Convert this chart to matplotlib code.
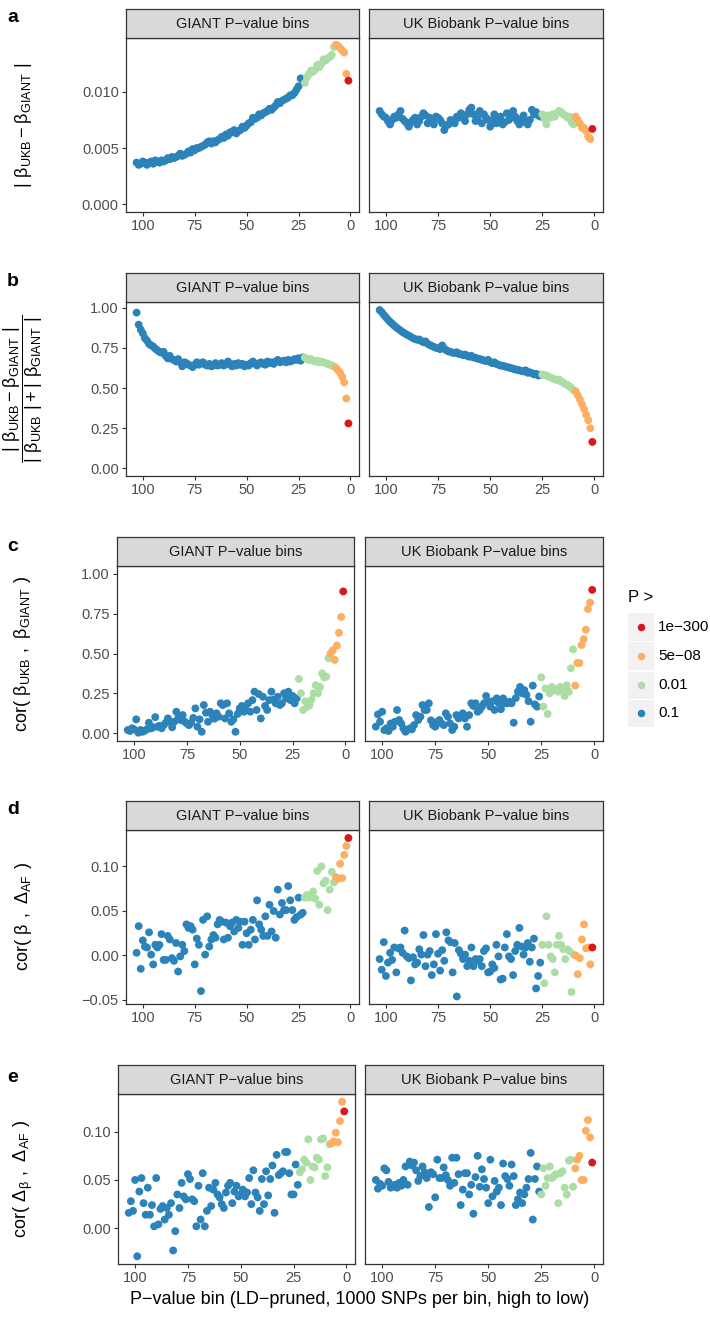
import matplotlib
matplotlib.use('Agg')
import matplotlib.pyplot as plt
from matplotlib.patches import Rectangle
from matplotlib.lines import Line2D

plt.rcParams['font.family'] = ['Liberation Sans', 'DejaVu Sans']
plt.rcParams['mathtext.default'] = 'regular'

# ---------------- data ----------------
# bins ordered as drawn left to right (high bin number -> low)
bins = list(range(103, 0, -1))

# P-value class of each bin, same order as bins
giant_cat = ['0.1'] * 81 + ['0.01'] * 15 + ['5e-08'] * 6 + ['1e-300']
ukb_cat = ['0.1'] * 78 + ['0.01'] * 16 + ['5e-08'] * 8 + ['1e-300']

legend_levels = ['1e-300', '5e-08', '0.01', '0.1']
legend_labels = ['1e\u2212300', '5e\u221208', '0.01', '0.1']
level_colors = ['#D7191C', '#FDAE61', '#ABDDA4', '#2B83BA']

# a: |beta_UKB - beta_GIANT|
a_giant = [
    0.0037, 0.0035, 0.0036, 0.0038, 0.0037, 0.0035, 0.0037, 0.0038, 0.0036, 0.0039,
    0.0038, 0.0037, 0.0039, 0.0038, 0.0039, 0.0041, 0.0040, 0.0042, 0.0041, 0.0042,
    0.0043, 0.0045, 0.0043, 0.0044, 0.0045, 0.0047, 0.0046, 0.0049, 0.0048, 0.0050,
    0.0050, 0.0051, 0.0052, 0.0053, 0.0055, 0.0056, 0.0054, 0.0056, 0.0055, 0.0057,
    0.0058, 0.0060, 0.0059, 0.0062, 0.0061, 0.0064, 0.0064, 0.0066, 0.0063, 0.0065,
    0.0066, 0.0069, 0.0068, 0.0070, 0.0072, 0.0073, 0.0077, 0.0076, 0.0077, 0.0080,
    0.0079, 0.0081, 0.0082, 0.0083, 0.0085, 0.0084, 0.0086, 0.0088, 0.0091, 0.0090,
    0.0092, 0.0093, 0.0094, 0.0095, 0.0097, 0.0097, 0.0099, 0.0102, 0.0105, 0.0112,
    0.0111,
    0.0108, 0.0113, 0.0116, 0.0119, 0.0118, 0.0120, 0.0124, 0.0122, 0.0125, 0.0129,
    0.0128, 0.0130, 0.0131, 0.0133, 0.0140,
    0.0142, 0.0141, 0.0139, 0.0137, 0.0135, 0.0116,
    0.0110]
a_ukb = [
    0.0083, 0.0080, 0.0078, 0.0077, 0.0074, 0.0071, 0.0075, 0.0078, 0.0077, 0.0080,
    0.0083, 0.0076, 0.0074, 0.0072, 0.0069, 0.0073, 0.0075, 0.0077, 0.0071, 0.0074,
    0.0078, 0.0081, 0.0079, 0.0072, 0.0077, 0.0074, 0.0071, 0.0078, 0.0077, 0.0075,
    0.0072, 0.0066, 0.0070, 0.0071, 0.0075, 0.0073, 0.0072, 0.0078, 0.0077, 0.0081,
    0.0077, 0.0074, 0.0080, 0.0084, 0.0086, 0.0080, 0.0074, 0.0077, 0.0083, 0.0072,
    0.0080, 0.0077, 0.0075, 0.0069, 0.0075, 0.0080, 0.0072, 0.0075, 0.0078, 0.0071,
    0.0073, 0.0081, 0.0075, 0.0077, 0.0083, 0.0078, 0.0074, 0.0071, 0.0076, 0.0079,
    0.0073, 0.0071, 0.0075, 0.0084, 0.0080, 0.0082, 0.0079, 0.0078,
    0.0080, 0.0076, 0.0071, 0.0079, 0.0077, 0.0080, 0.0078, 0.0081, 0.0083, 0.0082,
    0.0080, 0.0079, 0.0077, 0.0078, 0.0073, 0.0071,
    0.0078, 0.0075, 0.0072, 0.0068, 0.0068, 0.0065, 0.0060, 0.0058,
    0.0067]

# b: |beta_UKB - beta_GIANT| / (|beta_UKB| + |beta_GIANT|)
b_giant = [
    0.969, 0.894, 0.863, 0.840, 0.810, 0.795, 0.775, 0.765, 0.758, 0.745,
    0.735, 0.725, 0.720, 0.725, 0.700, 0.685, 0.700, 0.680, 0.675, 0.665,
    0.680, 0.660, 0.635, 0.660, 0.655, 0.645, 0.640, 0.630, 0.645, 0.660,
    0.645, 0.655, 0.660, 0.645, 0.640, 0.650, 0.635, 0.640, 0.655, 0.640,
    0.645, 0.655, 0.640, 0.650, 0.665, 0.645, 0.635, 0.650, 0.640, 0.655,
    0.645, 0.650, 0.635, 0.645, 0.640, 0.655, 0.665, 0.650, 0.640, 0.655,
    0.660, 0.650, 0.645, 0.665, 0.655, 0.660, 0.650, 0.665, 0.675, 0.660,
    0.665, 0.670, 0.660, 0.675, 0.665, 0.670, 0.680, 0.675, 0.685, 0.670,
    0.690,
    0.690, 0.680, 0.675, 0.680, 0.670, 0.665, 0.670, 0.660, 0.665, 0.660,
    0.655, 0.650, 0.645, 0.640, 0.635,
    0.625, 0.610, 0.595, 0.570, 0.535, 0.435,
    0.280]
b_ukb = [
    0.985, 0.972, 0.955, 0.940, 0.925, 0.912, 0.900, 0.888, 0.877, 0.867,
    0.858, 0.848, 0.840, 0.832, 0.826, 0.818, 0.810, 0.805, 0.800, 0.802,
    0.792, 0.785, 0.790, 0.775, 0.768, 0.762, 0.756, 0.750, 0.748, 0.742,
    0.765, 0.745, 0.735, 0.728, 0.725, 0.720, 0.718, 0.722, 0.712, 0.710,
    0.705, 0.708, 0.700, 0.695, 0.700, 0.690, 0.688, 0.683, 0.680, 0.676,
    0.672, 0.668, 0.675, 0.662, 0.655, 0.660, 0.650, 0.645, 0.640, 0.638,
    0.635, 0.630, 0.628, 0.624, 0.620, 0.616, 0.613, 0.610, 0.607, 0.603,
    0.610, 0.595, 0.598, 0.592, 0.585, 0.588, 0.578, 0.582,
    0.584, 0.580, 0.578, 0.570, 0.566, 0.560, 0.555, 0.550, 0.553, 0.540,
    0.535, 0.525, 0.520, 0.510, 0.500, 0.485,
    0.480, 0.455, 0.430, 0.400, 0.370, 0.335, 0.300, 0.250,
    0.165]

# c: cor(beta_UKB, beta_GIANT)
c_giant = [
    0.019, 0.013, 0.030, 0.023, 0.086, 0.002, 0.019, 0.008, 0.015, 0.023,
    0.065, 0.029, 0.036, 0.100, 0.040, 0.045, 0.030, 0.050, 0.065, 0.092,
    0.071, 0.036, 0.071, 0.134, 0.100, 0.082, 0.113, 0.071, 0.060, 0.050,
    0.065, 0.095, 0.155, 0.040, 0.086, 0.008, 0.176, 0.128, 0.071, 0.134,
    0.113, 0.090, 0.124, 0.103, 0.187, 0.176, 0.092, 0.187, 0.124, 0.071,
    0.086, 0.008, 0.120, 0.155, 0.170, 0.134, 0.145, 0.187, 0.134, 0.207,
    0.260, 0.145, 0.245, 0.092, 0.228, 0.170, 0.145, 0.207, 0.260, 0.210,
    0.187, 0.228, 0.176, 0.187, 0.250, 0.218, 0.260, 0.207, 0.233, 0.187,
    0.218,
    0.340, 0.250, 0.145, 0.200, 0.165, 0.175, 0.210, 0.250, 0.300, 0.250,
    0.290, 0.375, 0.350, 0.355, 0.470,
    0.500, 0.520, 0.460, 0.550, 0.630, 0.730,
    0.890]
c_ukb = [
    0.040, 0.117, 0.071, 0.134, 0.019, 0.030, 0.013, 0.060, 0.040, 0.071,
    0.145, 0.082, 0.060, 0.029, 0.008, 0.020, 0.029, 0.023, 0.050, 0.113,
    0.082, 0.103, 0.176, 0.145, 0.145, 0.187, 0.080, 0.050, 0.040, 0.071,
    0.082, 0.060, 0.050, 0.124, 0.103, 0.060, 0.019, 0.040, 0.113, 0.092,
    0.103, 0.124, 0.092, 0.040, 0.113, 0.187, 0.170, 0.187, 0.134, 0.145,
    0.166, 0.187, 0.233, 0.197, 0.166, 0.200, 0.145, 0.218, 0.187, 0.150,
    0.218, 0.187, 0.187, 0.197, 0.187, 0.065, 0.220, 0.260, 0.290, 0.250,
    0.270, 0.240, 0.200, 0.071, 0.298, 0.180, 0.166, 0.230,
    0.350, 0.166, 0.280, 0.120, 0.250, 0.290, 0.270, 0.275, 0.260, 0.290,
    0.270, 0.233, 0.300, 0.260, 0.407, 0.526,
    0.298, 0.440, 0.440, 0.553, 0.590, 0.650, 0.780, 0.820,
    0.900]

# d: cor(beta, Delta_AF)
d_giant = [
    0.003, 0.033, -0.015, 0.017, 0.010, 0.009, 0.026, 0.001, -0.010, 0.012,
    0.009, 0.012, 0.024, -0.005, -0.005, 0.022, 0.018, -0.003, -0.006, 0.014,
    -0.018, -0.001, 0.012, 0.005, 0.035, 0.031, 0.033, 0.029, -0.010, 0.019,
    0.012, -0.040, 0.040, 0.001, 0.044, 0.010, 0.018, 0.023, 0.020, 0.035,
    0.040, 0.038, 0.018, 0.037, 0.020, 0.033, 0.037, 0.027, 0.040, 0.031,
    0.038, 0.012, 0.038, 0.025, 0.012, 0.029, 0.040, 0.018, 0.062, 0.035,
    0.029, 0.022, 0.044, 0.022, 0.057, 0.027, 0.050, 0.020, 0.074, 0.046,
    0.059, 0.051, 0.051, 0.078, 0.062, 0.051, 0.040, 0.043, 0.065, 0.046,
    0.048,
    0.065, 0.068, 0.065, 0.068, 0.072, 0.064, 0.095, 0.057, 0.100, 0.081,
    0.084, 0.051, 0.074, 0.094, 0.082,
    0.088, 0.086, 0.103, 0.087, 0.113, 0.123,
    0.132]
d_ukb = [
    -0.004, -0.016, 0.015, -0.023, -0.008, 0.003, -0.005, 0.009, -0.019, 0.008,
    0.009, 0.003, 0.028, -0.001, -0.003, -0.028, -0.002, -0.010, -0.008, 0.007,
    0.001, 0.023, -0.012, 0.001, 0.005, -0.022, -0.010, 0.024, 0.002, -0.017,
    0.006, -0.006, 0.026, 0.017, 0.015, -0.019, 0.014, -0.046, 0.006, 0.002,
    -0.004, 0.001, -0.012, -0.006, 0.009, -0.012, -0.004, -0.006, -0.004, -0.012,
    0.005, 0.008, -0.019, -0.018, -0.010, -0.014, 0.012, -0.001, -0.027, -0.026,
    0.009, 0.024, -0.001, -0.004, -0.022, 0.005, 0.012, 0.031, 0.010, 0.001,
    0.009, 0.014, -0.007, 0.009, 0.019, -0.037, -0.023, -0.008,
    0.012, -0.031, 0.044, 0.012, -0.001, -0.004, -0.019, 0.012, 0.022, 0.012,
    0.007, -0.004, 0.007, 0.005, -0.041, 0.001,
    0.000, -0.021, -0.003, 0.018, 0.035, 0.008, 0.009, -0.010,
    0.009]

# e: cor(Delta_beta, Delta_AF)
e_giant = [
    0.016, 0.028, 0.018, 0.050, -0.029, 0.038, 0.052, 0.026, 0.014, 0.042,
    0.014, 0.024, 0.002, 0.052, 0.004, 0.020, 0.023, 0.009, 0.021, 0.014,
    0.026, -0.023, -0.003, 0.035, 0.021, 0.047, 0.033, 0.030, 0.056, 0.051,
    0.030, 0.028, 0.002, 0.044, 0.009, 0.057, 0.002, 0.018, 0.042, 0.023,
    0.040, 0.047, 0.035, 0.032, 0.025, 0.021, 0.037, 0.044, 0.047, 0.026,
    0.038, 0.044, 0.033, 0.035, 0.040, 0.033, 0.037, 0.052, 0.025, 0.060,
    0.037, 0.032, 0.018, 0.051, 0.025, 0.059, 0.034, 0.051, 0.065, 0.016,
    0.076, 0.055, 0.057, 0.059, 0.079, 0.079, 0.057, 0.035, 0.035, 0.066,
    0.045,
    0.058, 0.061, 0.071, 0.068, 0.092, 0.050, 0.064, 0.063, 0.073, 0.071,
    0.092, 0.093, 0.054, 0.063, 0.087,
    0.088, 0.090, 0.099, 0.089, 0.111, 0.131,
    0.121]
e_ukb = [
    0.050, 0.041, 0.046, 0.044, 0.062, 0.060, 0.048, 0.042, 0.043, 0.045,
    0.042, 0.047, 0.044, 0.050, 0.064, 0.045, 0.069, 0.065, 0.068, 0.060,
    0.049, 0.054, 0.064, 0.058, 0.052, 0.022, 0.058, 0.056, 0.032, 0.071,
    0.052, 0.052, 0.063, 0.055, 0.050, 0.044, 0.073, 0.047, 0.073, 0.056,
    0.024, 0.040, 0.057, 0.057, 0.035, 0.045, 0.015, 0.053, 0.075, 0.043,
    0.061, 0.051, 0.042, 0.026, 0.071, 0.033, 0.049, 0.038, 0.042, 0.024,
    0.067, 0.054, 0.051, 0.044, 0.066, 0.054, 0.024, 0.030, 0.037, 0.026,
    0.035, 0.042, 0.051, 0.078, 0.009, 0.051, 0.064, 0.038,
    0.035, 0.062, 0.044, 0.052, 0.064, 0.052, 0.054, 0.056, 0.026, 0.057,
    0.059, 0.042, 0.035, 0.070, 0.071, 0.043,
    0.062, 0.071, 0.075, 0.050, 0.050, 0.101, 0.112, 0.094,
    0.068]

x_ticks = [100, 75, 50, 25, 0]
strip_labels = ['GIANT P\u2212value bins', 'UK Biobank P\u2212value bins']

a_yticks = [0.000, 0.005, 0.010]
a_yticklabels = ['0.000', '0.005', '0.010']
b_yticks = [0.00, 0.25, 0.50, 0.75, 1.00]
b_yticklabels = ['0.00', '0.25', '0.50', '0.75', '1.00']
c_yticks = [0.00, 0.25, 0.50, 0.75, 1.00]
c_yticklabels = ['0.00', '0.25', '0.50', '0.75', '1.00']
d_yticks = [-0.05, 0.00, 0.05, 0.10]
d_yticklabels = ['\u22120.05', '0.00', '0.05', '0.10']
e_yticks = [0.00, 0.05, 0.10]
e_yticklabels = ['0.00', '0.05', '0.10']

ylabel_a = r'$|\ \beta_{UKB} - \beta_{GIANT}\ |$'
ylabel_b = r'$\dfrac{|\ \beta_{UKB} - \beta_{GIANT}\ |}{|\ \beta_{UKB}\ | + |\ \beta_{GIANT}\ |}$'
ylabel_c = r'$cor(\ \beta_{UKB}\ ,\ \beta_{GIANT}\ )$'
ylabel_d = r'$cor(\ \beta\ ,\ \Delta_{AF}\ )$'
ylabel_e = r'$cor(\ \Delta_{\beta}\ ,\ \Delta_{AF}\ )$'
xlabel = 'P\u2212value bin (LD\u2212pruned, 1000 SNPs per bin, high to low)'

# ---------------- layout ----------------
W, H = 710, 1320
fig = plt.figure(figsize=(W / 100, H / 100), dpi=100)
fig.patch.set_facecolor('white')


def rect(l, t, r, b):
    return [l / W, 1 - b / H, (r - l) / W, (b - t) / H]


rows = [
    dict(letter='a', g=a_giant, u=a_ukb, st=9, top=38, bot=212, L=(126, 359), R=(369, 603),
         ylim=(-0.0007, 0.0148), yt=a_yticks, ytl=a_yticklabels, ylab=ylabel_a, ly=18),
    dict(letter='b', g=b_giant, u=b_ukb, st=273, top=302, bot=476, L=(126, 359), R=(369, 603),
         ylim=(-0.047, 1.035), yt=b_yticks, ytl=b_yticklabels, ylab=ylabel_b, ly=282),
    dict(letter='c', g=c_giant, u=c_ukb, st=537, top=566, bot=741, L=(117, 354), R=(365, 603),
         ylim=(-0.05, 1.05), yt=c_yticks, ytl=c_yticklabels, ylab=ylabel_c, ly=547),
    dict(letter='d', g=d_giant, u=d_ukb, st=801, top=830, bot=1004, L=(126, 359), R=(369, 603),
         ylim=(-0.0545, 0.141), yt=d_yticks, ytl=d_yticklabels, ylab=ylabel_d, ly=810),
    dict(letter='e', g=e_giant, u=e_ukb, st=1065, top=1094, bot=1264, L=(118, 355), R=(365, 603),
         ylim=(-0.037, 0.139), yt=e_yticks, ytl=e_yticklabels, ylab=ylabel_e, ly=1077),
]

dark = '#333333'
col_of = dict(zip(legend_levels, level_colors))

for row in rows:
    for j, (vals, cats, (l, r)) in enumerate([(row['g'], giant_cat, row['L']),
                                             (row['u'], ukb_cat, row['R'])]):
        ax = fig.add_axes(rect(l, row['top'], r, row['bot']))
        ax.scatter(bins, vals, c=[col_of[c] for c in cats], s=32, linewidths=0, zorder=3)
        ax.set_xlim(108.1, -4.1)
        ax.set_ylim(*row['ylim'])
        ax.set_xticks(x_ticks)
        ax.set_xticklabels([str(t) for t in x_ticks])
        ax.set_yticks(row['yt'])
        if j == 0:
            ax.set_yticklabels(row['ytl'])
            ax.tick_params(axis='y', length=3.2, width=0.8, color=dark,
                           labelsize=10.5, labelcolor='#4D4D4D', pad=2.0)
        else:
            ax.tick_params(axis='y', length=0, labelleft=False)
        ax.tick_params(axis='x', length=3.2, width=0.8, color=dark,
                       labelsize=10.5, labelcolor='#4D4D4D', pad=2.0)
        for s in ax.spines.values():
            s.set_color(dark)
            s.set_linewidth(0.9)
        ax.set_facecolor('white')
        # strip
        sax = fig.add_axes(rect(l, row['st'], r, row['top']))
        sax.set_facecolor('#D9D9D9')
        sax.set_xticks([])
        sax.set_yticks([])
        for s in sax.spines.values():
            s.set_color(dark)
            s.set_linewidth(0.9)
        sax.text(0.5, 0.47, strip_labels[j], ha='center', va='center',
                 fontsize=10.5, color='#1A1A1A', transform=sax.transAxes)
    # y label
    fig.text(23 / W, 1 - (row['top'] + row['bot']) / 2 / H, row['ylab'], rotation=90,
             ha='center', va='center', fontsize=13, color='black')
    # panel letter
    fig.text(7 / W, 1 - row['ly'] / H, row['letter'], ha='left', va='center',
             fontsize=14, fontweight='bold', color='black')

# x label
fig.text(360 / W, 1 - 1300 / H, xlabel, ha='center', va='center', fontsize=13, color='black')

# legend
fig.text(628 / W, 1 - 598 / H, 'P >', ha='left', va='center', fontsize=12, color='black')
key_centers = [627, 656, 685, 713]
for yc, lab, colr in zip(key_centers, legend_labels, level_colors):
    fig.patches.append(Rectangle((628 / W, 1 - (yc + 13.5) / H), 26 / W, 27 / H,
                                 transform=fig.transFigure, facecolor='#F2F2F2',
                                 edgecolor='none'))
    fig.lines.append(Line2D([641 / W], [1 - yc / H], transform=fig.transFigure,
                            marker='o', markersize=5.4, markerfacecolor=colr,
                            markeredgewidth=0, linestyle='none'))
    fig.text(658 / W, 1 - yc / H, lab, ha='left', va='center', fontsize=11, color='black')

fig.savefig('out.png', dpi=100)
